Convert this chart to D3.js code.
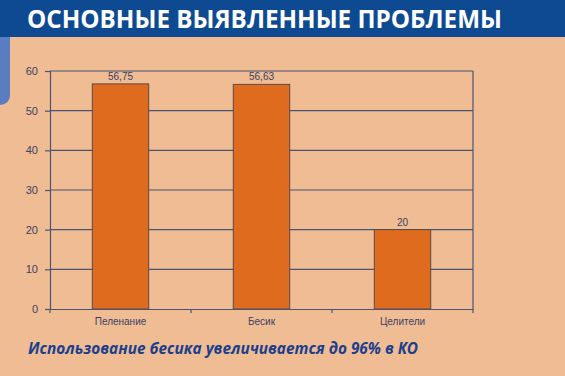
<!DOCTYPE html>
<html><head><meta charset="utf-8">
<script src="https://cdn.jsdelivr.net/npm/d3@7/dist/d3.min.js"></script>
<style>html,body{margin:0;padding:0;background:#EFBC93;}svg{display:block;}</style>
</head><body>
<svg id="chart" width="565" height="376"></svg>
<script>
const title = "ОСНОВНЫЕ ВЫЯВЛЕННЫЕ ПРОБЛЕМЫ";
const subtitle = "Использование бесика увеличивается до 96% в КО";
const categories = ["Пеленание", "Бесик", "Целители"];
const values = [56.75, 56.63, 20];
const valueLabels = ["56,75", "56,63", "20"];
const yTicks = [0, 10, 20, 30, 40, 50, 60];

const svg = d3.select("#chart");
const W = 565, H = 376;
svg.append("rect").attr("width", W).attr("height", H).attr("fill", "#EFBC93");
// header band
svg.append("rect").attr("x", 0).attr("y", 0).attr("width", W).attr("height", 37).attr("fill", "#0E4A92");
// left decorative tab
svg.append("path").attr("d", "M0,37 H10 V95 Q10,104 0,105 Z").attr("fill", "#5A7DC2");
svg.append("text").attr("x", 264.5).attr("y", 27.5).attr("text-anchor", "middle")
  .attr("font-family", "Open Sans, sans-serif").attr("font-weight", 700).attr("font-size", 25)
  .attr("fill", "#ffffff").attr("textLength", 475).attr("lengthAdjust", "spacingAndGlyphs").text(title);

const m = {left: 50, top: 71, right: 473, bottom: 309};
const x = d3.scaleBand().domain(categories).range([m.left, m.right]).paddingInner(0.6).paddingOuter(0.3);
const y = d3.scaleLinear().domain([0, 60]).range([m.bottom, m.top]);
const axisColor = "#4A5574";

// gridlines
const g = svg.append("g");
g.selectAll("line.grid").data(yTicks.slice(1)).join("line")
  .attr("x1", m.left).attr("x2", m.right).attr("y1", d => y(d)).attr("y2", d => y(d))
  .attr("stroke", axisColor).attr("stroke-width", 1.2);
// right border
g.append("line").attr("x1", m.right).attr("x2", m.right).attr("y1", m.top).attr("y2", m.bottom)
  .attr("stroke", axisColor).attr("stroke-width", 1.2);

// bars
svg.selectAll("rect.bar").data(values).join("rect").attr("class", "bar")
  .attr("x", (d, i) => x(categories[i])).attr("width", x.bandwidth())
  .attr("y", d => y(d)).attr("height", d => y(0) - y(d))
  .attr("fill", "#DF6B1E").attr("stroke", "#5A4A4A").attr("stroke-width", 1);

// value labels
svg.selectAll("text.val").data(values).join("text")
  .attr("x", (d, i) => x(categories[i]) + x.bandwidth() / 2).attr("y", d => y(d) - 4)
  .attr("text-anchor", "middle").attr("font-family", "Liberation Sans, Arial, sans-serif")
  .attr("font-size", 10).attr("fill", "#3A4266").text((d, i) => valueLabels[i]);

// y axis
const yAxis = d3.axisLeft(y).tickValues(yTicks).tickSize(5).tickPadding(7);
const ya = svg.append("g").attr("transform", `translate(${m.left},0)`).call(yAxis);
ya.select(".domain").attr("stroke", axisColor).attr("stroke-width", 1.2);
ya.selectAll(".tick line").attr("stroke", axisColor).attr("stroke-width", 1.2);
ya.selectAll(".tick text").attr("font-family", "Liberation Sans, Arial, sans-serif")
  .attr("font-size", 11).attr("fill", "#3A4266");

// x axis
const xAxis = d3.axisBottom(x).tickSize(0).tickPadding(9);
const xa = svg.append("g").attr("transform", `translate(0,${m.bottom})`).call(xAxis);
xa.select(".domain").attr("stroke", axisColor).attr("stroke-width", 1.2);
xa.selectAll(".tick text").attr("font-family", "Liberation Sans, Arial, sans-serif")
  .attr("font-size", 10).attr("fill", "#3A4266");
// category boundary ticks
const bounds = d3.range(categories.length + 1).map(i => m.left + (m.right - m.left) * i / categories.length);
xa.selectAll("line.bt").data(bounds).join("line").attr("class", "bt")
  .attr("x1", d => d).attr("x2", d => d).attr("y1", 0).attr("y2", 4)
  .attr("stroke", axisColor).attr("stroke-width", 1.2);

// subtitle
svg.append("text").attr("x", 28).attr("y", 354)
  .attr("font-family", "Open Sans, sans-serif").attr("font-weight", 700).attr("font-style", "italic")
  .attr("font-size", 16).attr("fill", "#1B3F8C")
  .attr("textLength", 390).attr("lengthAdjust", "spacingAndGlyphs").text(subtitle);
</script>
</body></html>
